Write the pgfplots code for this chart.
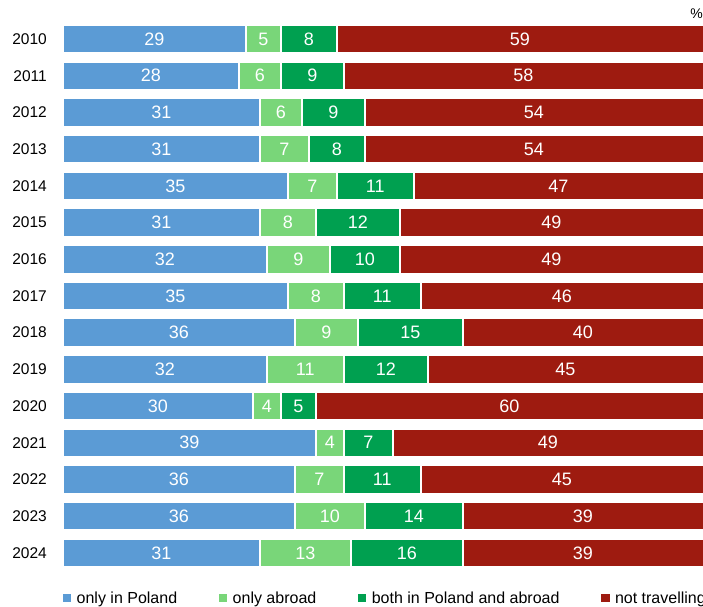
\documentclass[border=0pt]{standalone}
\usepackage{fontspec}
\setmainfont{Liberation Sans}
\usepackage{pgfplots}
\usepackage{pgfplotstable}
\pgfplotsset{compat=1.18}
\definecolor{cA}{HTML}{5B9BD5}
\definecolor{cB}{HTML}{79D679}
\definecolor{cC}{HTML}{00A050}
\definecolor{cD}{HTML}{9E1B10}
\pgfplotstableread{
year a b c d
2010 29 5 8 59
2011 28 6 9 58
2012 31 6 9 54
2013 31 7 8 54
2014 35 7 11 47
2015 31 8 12 49
2016 32 9 10 49
2017 35 8 11 46
2018 36 9 15 40
2019 32 11 12 45
2020 30 4 5 60
2021 39 4 7 49
2022 36 7 11 45
2023 36 10 14 39
2024 31 13 16 39
}\data
\pgfplotsset{geom/.style={at={(63pt,-20.7pt)}, anchor=north west, scale only axis,
  width=640pt, height=550.5pt, xmin=2.9, xmax=94.3, ymin=2009.5, ymax=2024.5, y dir=reverse}}
\pgfplotsset{lbl/.style={draw=none, mark=none, nodes near coords, point meta=explicit symbolic,
  nodes near coords align={center},
  every node near coord/.append style={font=\fontsize{18}{20}\selectfont, text=white, anchor=center}}}
\begin{document}
\begin{tikzpicture}
\useasboundingbox (0pt,-606pt) rectangle (703pt,0pt);
\clip (0pt,-606pt) rectangle (703pt,0pt);
\begin{axis}[geom,
  xbar stacked, bar width=29pt,
  ytick={2010,...,2024}, xtick=\empty,
  yticklabel style={font=\fontsize{15.5}{18}\selectfont, inner sep=0pt, xshift=-16pt},
  /pgf/number format/assume math mode=true,
  /pgf/number format/1000 sep={},
  axis line style={draw=none}, major tick length=0pt,
  every axis plot/.append style={draw=white, line width=2.5pt},
  legend columns=4,
  legend style={at={(0,0)}, anchor=north west, xshift=-3pt, yshift=-20pt, draw=none, fill=none,
    inner sep=0pt, font=\fontsize{16}{19}\selectfont, column sep=0pt,
    nodes={inner sep=0pt},
    /tikz/every odd column/.append style={column sep=3pt},
    /tikz/every even column/.append style={column sep=39pt}},
  legend image code/.code={\fill[#1] (0pt,-5.5pt) rectangle (11pt,5.5pt);},
]
\addplot[fill=cA] table[x=a,y=year]{\data};
\addplot[fill=cB] table[x=b,y=year]{\data};
\addplot[fill=cC] table[x=c,y=year]{\data};
\addplot[fill=cD] table[x=d,y=year]{\data};
\legend{only in Poland, only abroad, both in Poland and abroad, not travelling}
\end{axis}
\begin{axis}[geom, hide axis]
\addplot[lbl] table[x expr={(\thisrow{a}+2.9)/2}, y=year, meta=a]{\data};
\addplot[lbl] table[x expr={\thisrow{a}+\thisrow{b}/2}, y=year, meta=b]{\data};
\addplot[lbl] table[x expr={\thisrow{a}+\thisrow{b}+\thisrow{c}/2}, y=year, meta=c]{\data};
\addplot[lbl] table[x expr={(\thisrow{a}+\thisrow{b}+\thisrow{c}+94.3)/2}, y=year, meta=d]{\data};
\end{axis}
\node[anchor=base east, font=\fontsize{14}{16}\selectfont, inner sep=0pt] at (703pt,-18.5pt) {\%};
\end{tikzpicture}
\end{document}
